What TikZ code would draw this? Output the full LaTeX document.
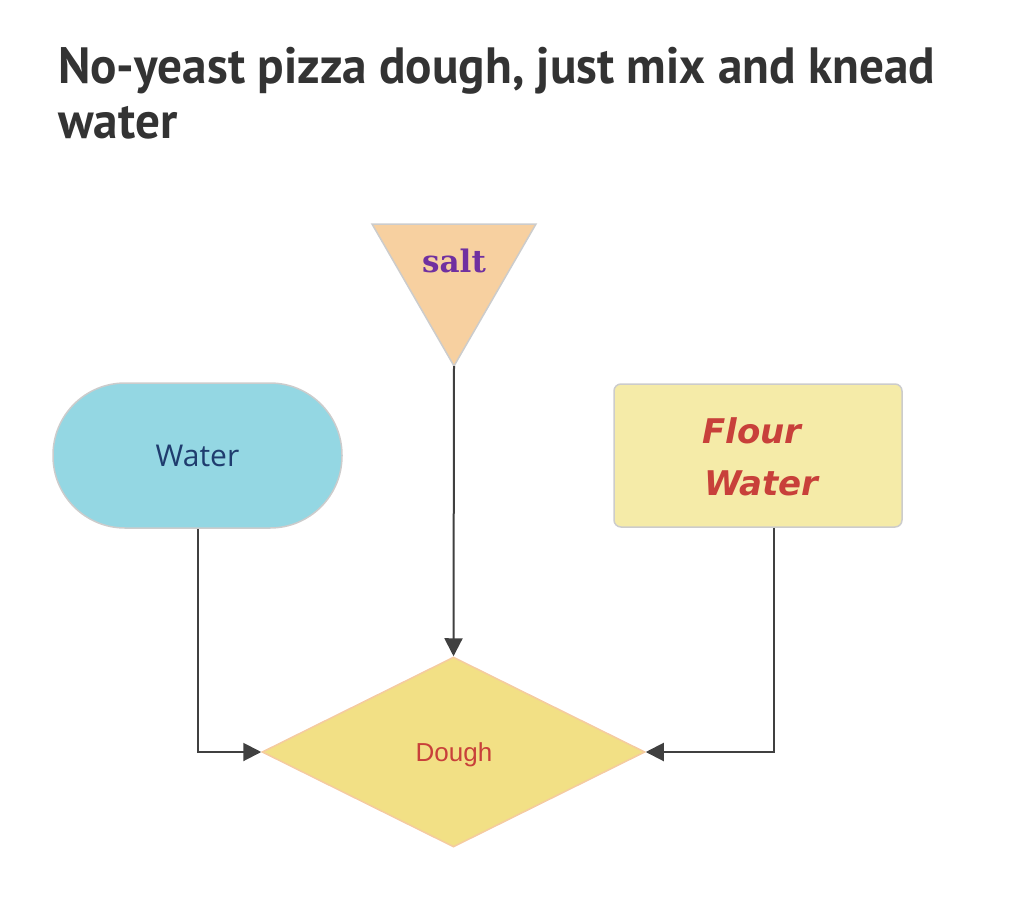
\documentclass[tikz,border=0pt]{standalone}
\usepackage{fontspec}
\setmainfont{Liberation Sans}
\newfontfamily\titlefont[FakeStretch=0.965]{PT Sans}
\newfontfamily\openfont{Open Sans}
\newfontfamily\dejafont{DejaVu Sans}
\newfontfamily\dejaserif{DejaVu Serif}
\usetikzlibrary{shapes.geometric,arrows.meta}
\definecolor{titlec}{HTML}{333333}
\definecolor{linec}{HTML}{404040}
\definecolor{borderc}{HTML}{CCCCCC}
\definecolor{saltfill}{HTML}{F7D0A0}
\definecolor{saltc}{HTML}{7030A0}
\definecolor{waterfill}{HTML}{94D7E3}
\definecolor{waterc}{HTML}{1F3C6E}
\definecolor{flourfill}{HTML}{F5EBA8}
\definecolor{redc}{HTML}{C8403A}
\definecolor{doughfill}{HTML}{F2E085}
\definecolor{doughborder}{HTML}{F5CBA0}
\tikzset{
  conn/.style={draw=linec, line width=2pt, -{Triangle[length=18pt,width=18pt]}},
  stadium/.style={draw=borderc, line width=1.5pt, fill=waterfill, rounded corners=72pt,
    minimum width=289pt, minimum height=145pt, inner sep=0pt},
  boxnode/.style={draw=borderc, line width=1.5pt, fill=flourfill, rounded corners=7pt,
    minimum width=288pt, minimum height=143pt, inner sep=0pt},
  dia/.style={diamond, draw=doughborder, line width=1.5pt, fill=doughfill,
    minimum width=383pt, minimum height=190pt, inner sep=0pt},
  titletext/.style={anchor=base west, inner sep=0pt, text=titlec, font=\titlefont\bfseries\fontsize{51}{56}\selectfont},
  flourtext/.style={anchor=base west, inner sep=0pt, text=redc, font=\dejafont\bfseries\itshape\fontsize{34}{40}\selectfont},
}
\begin{document}
\begin{tikzpicture}[x=1pt,y=-1pt]
\useasboundingbox (0,0) rectangle (1018,900);
% title
\node[titletext] (t1) at (58,83) {No-yeast pizza dough, just mix and knead};
\node[titletext] (t2) at (58,138) {water};
% salt triangle
\draw[draw=borderc, line width=1.5pt, fill=saltfill] (372,224) -- (536,224) -- (454,366) -- cycle;
\coordinate (saltapex) at (454,366);
\node[text=saltc, font=\dejaserif\bfseries\fontsize{31}{34}\selectfont, inner sep=0pt, anchor=base] (salt) at (454,272) {salt};
% water stadium
\node[stadium, text=waterc, font=\openfont\fontsize{30}{36}\selectfont] (water) at (197.5,455.5) {Water};
% flour box
\node[boxnode] (flour) at (758,455.5) {};
\node[flourtext] (flourt) at (702,443) {Flour};
\node[flourtext] (watert) at (704,495) {Water};
% dough diamond
\node[dia] (dough) at (453.5,752) {};
\node[text=redc, font=\fontsize{26}{30}\selectfont, inner sep=0pt, anchor=base] (doughtext) at (454,761) {Dough};
% connectors
\draw[conn] (saltapex) -- (dough.north);
\draw[conn] (water.south) |- (dough.west);
\draw[conn] (flour.south -| 774,0) |- (dough.east);
\end{tikzpicture}
\end{document}
